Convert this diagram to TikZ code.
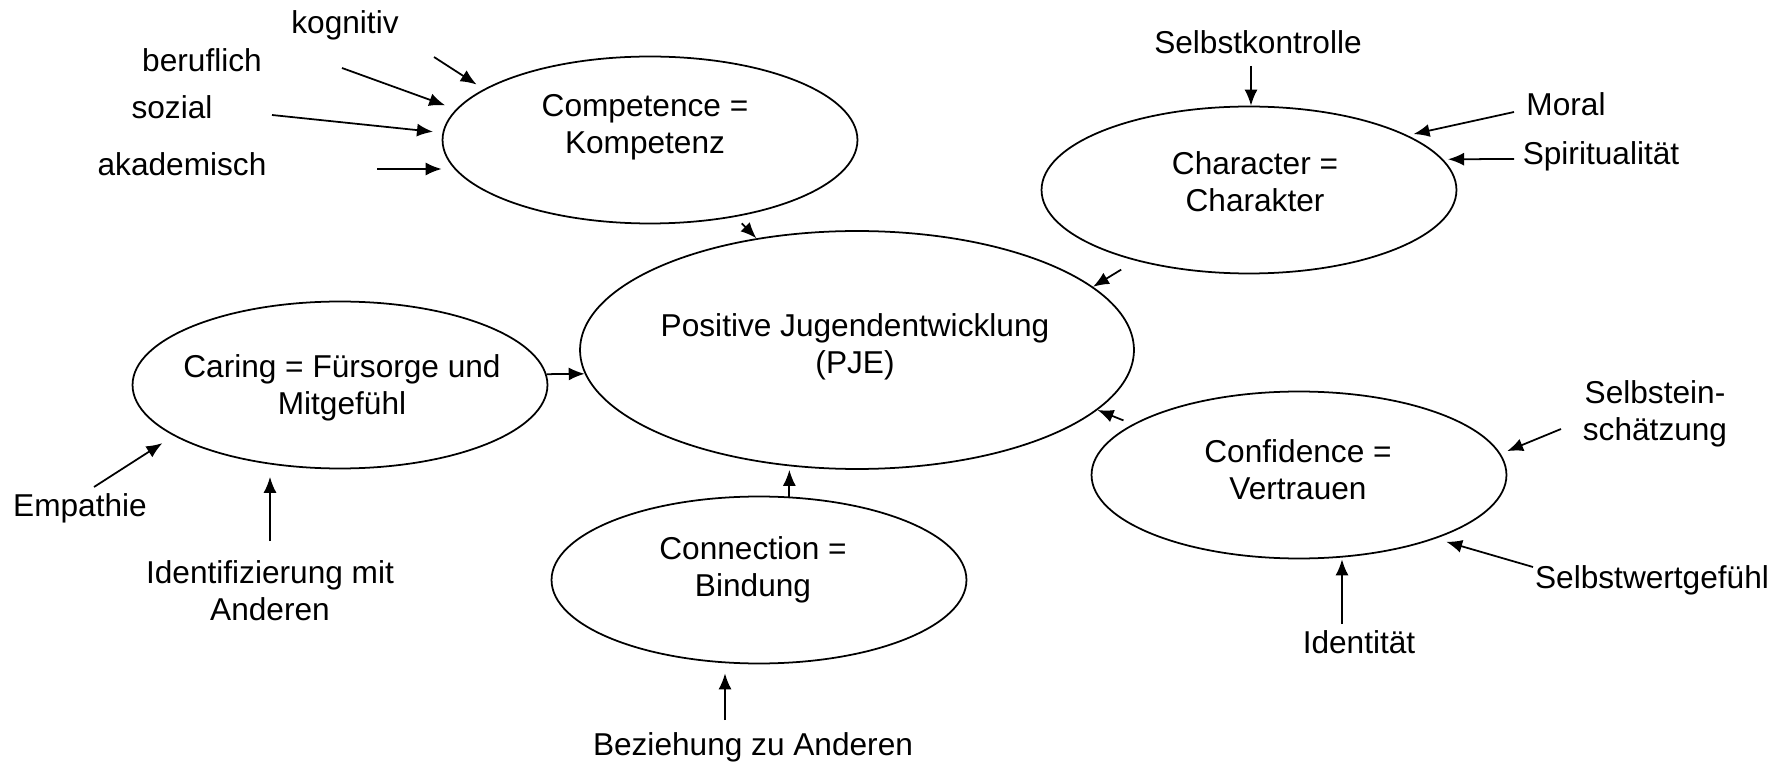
\documentclass[tikz,border=0pt]{standalone}
\usepackage{fontspec}
\setmainfont{Liberation Sans}
\usepackage{tikz}
\usetikzlibrary{shapes.geometric, arrows.meta, calc}
\tikzstyle{arrow} = [line width=1pt, -{Latex[length=3.2mm, width=2.6mm]}]
\tikzstyle{oval} = [ellipse, draw=black, line width=1pt, minimum width=8.3cm, minimum height=3.34cm, inner sep=0pt]
\tikzstyle{term} = [align=center, inner sep=0pt]

\begin{document}
\begin{tikzpicture}[x=0.02cm, y=-0.02cm, font=\fontsize{18}{21}\selectfont]
    \useasboundingbox (0,0) rectangle (1782,763);

    % Centre and the five Cs
    \node[oval, minimum width=11.08cm, minimum height=4.76cm] (pje) at (857,350) {};
    \node[term] (pje-txt) at (855,347) {Positive Jugendentwicklung\\(PJE)};
    \node[oval] (competence) at (650,140) {};
    \node[term] (competence-txt) at (645,127) {Competence =\\Kompetenz};
    \node[oval] (character) at (1249,190) {};
    \node[term] (character-txt) at (1255,182) {Character =\\Charakter};
    \node[oval] (caring) at (340,385) {};
    \node[term] (caring-txt) at (342,388) {Caring = Fürsorge und\\Mitgefühl};
    \node[oval] (connection) at (759,580) {};
    \node[term] (connection-txt) at (753,570) {Connection =\\Bindung};
    \node[oval] (confidence) at (1299,475) {};
    \node[term] (confidence-txt) at (1298,470) {Confidence =\\Vertrauen};

    % Arrows into the centre
    \draw[arrow, shorten <=0.18cm] (competence.318) -- (pje.132);
    \draw[arrow, shorten <=0.34cm] (character.212) -- (pje.15);
    \draw[arrow] (caring.3) -- (pje.185);
    \draw[arrow] (connection.70) -- (connection.70 |- pje.south);
    \draw[arrow, shorten <=0.2cm] (confidence.163) -- (pje.346);

    % Competence
    \node[term] (kognitiv) at (345,25) {kognitiv};
    \node[term] (beruflich) at (202,60) {beruflich};
    \node[term] (sozial) at (172,107) {sozial};
    \node[term] (akademisch) at (182,164) {akademisch};
    \coordinate (kognitiv-s) at (434,57);
    \coordinate (beruflich-s) at (342,68);
    \coordinate (sozial-s) at (272,115);
    \coordinate (akademisch-s) at (377,169);
    \draw[arrow, shorten >=0.17cm] (kognitiv-s) -- (competence.163);
    \draw[arrow, shorten >=0.23cm] (beruflich-s) -- (competence.171);
    \draw[arrow, shorten >=0.19cm] (sozial-s) -- (competence.178);
    \draw[arrow] (akademisch-s) -- (akademisch-s -| competence.west);

    % Character
    \node[term] (selbstkontrolle) at (1258,42) {Selbstkontrolle};
    \node[term] (moral) at (1566,104) {Moral};
    \node[term] (spiritualitaet) at (1601,156) {Spiritualität};
    \coordinate (selbstkontrolle-s) at (1251,66);
    \coordinate (moral-s) at (1514,112);
    \coordinate (spiritualitaet-s) at (1514,159);
    \draw[arrow] (selbstkontrolle-s) -- (selbstkontrolle-s |- character.north);
    \draw[arrow, shorten >=0.12cm] (moral-s) -- (character.19);
    \draw[arrow, shorten >=0.1cm] (spiritualitaet-s) -- (character.9);

    % Confidence
    \node[term] (selbsteinschaetzung) at (1655,414) {Selbstein-\\schätzung};
    \node[term] (selbstwert) at (1652,580) {Selbstwertgefühl};
    \node[term] (identitaet) at (1359,642) {Identität};
    \coordinate (selbsteinschaetzung-s) at (1561,429);
    \coordinate (selbstwert-s) at (1533,567);
    \coordinate (identitaet-s) at (1342,624);
    \draw[arrow, shorten >=0.14cm] (selbsteinschaetzung-s) -- (confidence.6);
    \draw[arrow, shorten >=0.22cm] (selbstwert-s) -- (confidence.335);
    \draw[arrow] (identitaet-s) -- (identitaet-s |- confidence.south);

    % Caring
    \node[term] (empathie) at (80,508) {Empathie};
    \node[term] (identifizierung) at (270,591) {Identifizierung mit\\Anderen};
    \coordinate (empathie-s) at (94,487);
    \coordinate (identifizierung-s) at (270,541);
    \draw[arrow, shorten >=0.27cm] (empathie-s) -- (caring.197);
    \draw[arrow, shorten >=0.15cm] (identifizierung-s) -- (identifizierung-s |- caring.south);

    % Connection
    \node[term] (beziehung) at (753,747) {Beziehung zu Anderen};
    \coordinate (beziehung-s) at (725,720);
    \draw[arrow, shorten >=0.18cm] (beziehung-s) -- (beziehung-s |- connection.south);

\end{tikzpicture}
\end{document}
